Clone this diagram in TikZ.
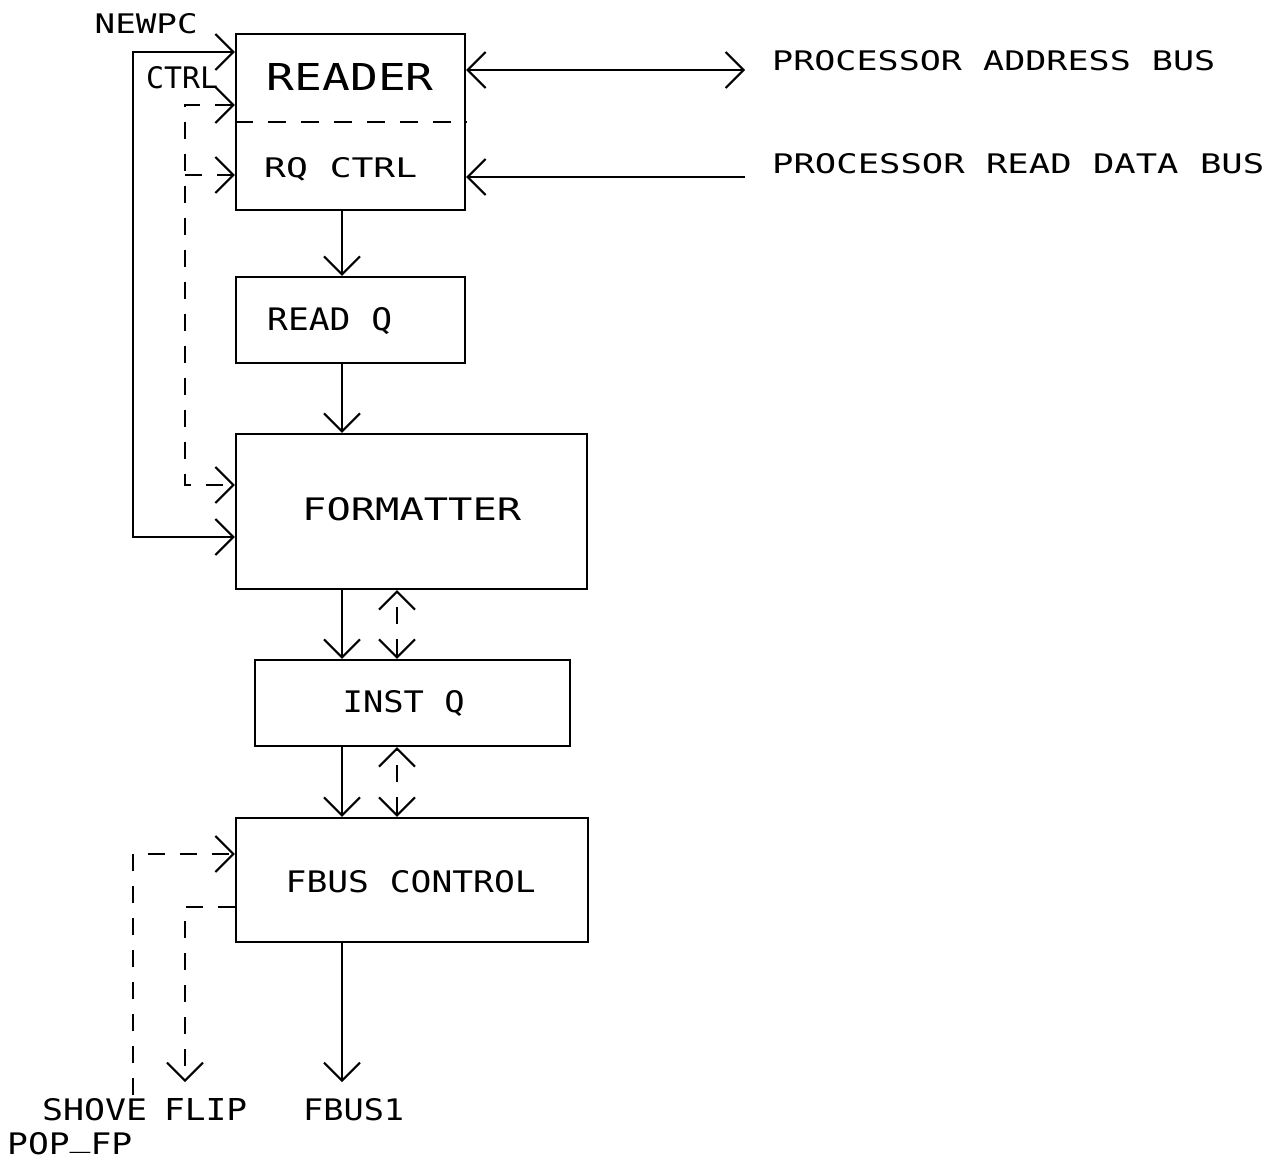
\documentclass[tikz,border=0pt]{standalone}
\usepackage{fontspec}
\usepackage{graphicx}
\setmainfont{DejaVu Sans Mono}
\usetikzlibrary{arrows.meta}
\newcommand\pltxt[3]{\resizebox{#1pt}{#2pt}{#3}}
\begin{document}
\begin{tikzpicture}[x=1pt,y=-1pt,
  >={Straight Barb[length=18pt,width=36pt]},
  box/.style={draw,line width=2.4pt,inner sep=0pt},
  wire/.style={line width=2pt},
  dwire/.style={line width=2pt,dash pattern=on 17pt off 15pt},
  sepline/.style={line width=1.8pt,dash pattern=on 18pt off 15pt},
  lbl/.style={inner sep=0pt,anchor=base west}]
\useasboundingbox[fill=white] (0,0) rectangle (1278,1160);

% boxes
\node[box,minimum width=229pt,minimum height=176pt] (reader) at (350.5,122) {};
\node[box,minimum width=229pt,minimum height=86pt] (readq) at (350.5,320) {};
\node[box,minimum width=351pt,minimum height=155pt] (fmt) at (411.5,511.5) {};
\node[box,minimum width=315pt,minimum height=86pt] (instq) at (412.5,703) {};
\node[box,minimum width=352pt,minimum height=124pt] (fbus) at (412,880) {};

% separator in reader
\draw[sepline] (reader.west) -- (reader.east);

% box labels
\node[lbl] (tReader) at (266.5,90) {\pltxt{167}{27}{READER}};
\node[lbl] (tRq) at (264,177) {\pltxt{153}{20}{RQ CTRL}};
\node[lbl] (tReadq) at (267,330) {\pltxt{125}{23}{READ Q}};
\node[lbl] (tFmt) at (302,520) {\pltxt{219}{23}{FORMATTER}};
\node[lbl] (tInst) at (342.5,712) {\pltxt{122}{22}{INST Q}};
\node[lbl] (tFbus) at (285.5,892) {\pltxt{250}{22}{FBUS CONTROL}};

% outside labels
\node[lbl] (tNewpc) at (94.5,33) {\pltxt{103}{20}{NEWPC}};
\node[lbl] (tCtrl) at (146,88) {\pltxt{72}{22}{CTRL}};
\node[lbl] (tAddr) at (772,70) {\pltxt{443}{20}{PROCESSOR ADDRESS BUS}};
\node[lbl] (tData) at (772,173) {\pltxt{492}{20}{PROCESSOR READ DATA BUS}};
\node[lbl] (tShove) at (42,1120) {\pltxt{105}{22}{SHOVE}};
\node[lbl] (tFlip) at (164,1120) {\pltxt{83}{22}{FLIP}};
\node[lbl] (tFbus1) at (303,1120) {\pltxt{101}{22}{FBUS1}};
\node[lbl] (tPop) at (7,1154) {\pltxt{125}{22}{POP\raisebox{0.24em}{\_}FP}};

% coordinates
\coordinate (addr) at (745,70);
\coordinate (rdb) at (745,177);
\coordinate (nA) at (133,52);
\coordinate (nB) at (133,537);
\coordinate (cA) at (185,105);
\coordinate (cM) at (185,175);
\coordinate (cB) at (185,485);
\coordinate (sx) at (342,0);
\coordinate (dx) at (397,0);
\coordinate (fb1) at (342,1082);
\coordinate (sh1) at (133,1095);
\coordinate (sh2) at (133,854);
\coordinate (fl1) at (185,907);
\coordinate (fl2) at (185,1082);

% buses
\draw[wire,<->] (reader.east |- addr) -- (addr);
\draw[wire,->] (rdb) -- (reader.east |- rdb);

% NEWPC
\draw[wire,<->] (reader.west |- nA) -- (nA) -- (nB) -- (fmt.west |- nB);

% CTRL dashed
\draw[dwire,<->] (reader.west |- cA) -- (cA) -- (cB) -- (fmt.west |- cB);
\draw[dwire,->] (cM) -- (reader.west |- cM);

% main flow
\draw[wire,->] (reader.south -| sx) -- (readq.north -| sx);
\draw[wire,->] (readq.south -| sx) -- (fmt.north -| sx);
\draw[wire,->] (fmt.south -| sx) -- (instq.north -| sx);
\draw[dwire,<->] (instq.north -| dx) -- (fmt.south -| dx);
\draw[wire,->] (instq.south -| sx) -- (fbus.north -| sx);
\draw[dwire,<->] (fbus.north -| dx) -- (instq.south -| dx);
\draw[wire,->] (fbus.south -| fb1) -- (fb1);

% SHOVE / FLIP
\draw[dwire,->] (sh1) -- (sh2) -- (fbus.west |- sh2);
\draw[dwire,->] (fbus.west |- fl1) -- (fl1) -- (fl2);
\end{tikzpicture}
\end{document}
